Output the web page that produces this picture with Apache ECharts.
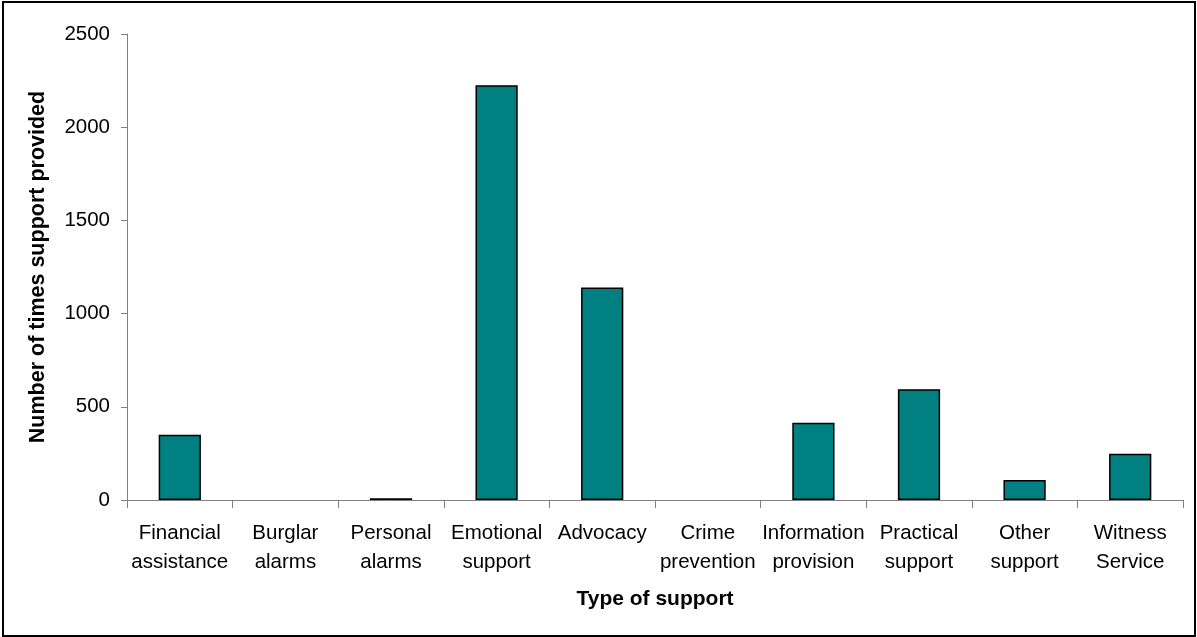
<!DOCTYPE html>
<html>
<head>
<meta charset="utf-8">
<script src="https://cdn.jsdelivr.net/npm/echarts@6/dist/echarts.min.js"></script>
<style>
html,body{margin:0;padding:0;background:#fff;}
#frame{position:absolute;left:2px;top:1px;width:1190px;height:632px;border:2px solid #000;box-sizing:content-box;}
#chart{position:absolute;left:0;top:0;width:1197px;height:637px;}
</style>
</head>
<body>
<div id="frame"></div>
<div id="chart"></div>
<script>
const categories = ["Financial assistance","Burglar alarms","Personal alarms","Emotional support","Advocacy","Crime prevention","Information provision","Practical support","Other support","Witness Service"];
const values = [350, 0, 10, 2225, 1140, 0, 415, 594, 107, 248];
const yTicks = [0, 500, 1000, 1500, 2000, 2500];

const FONT = 'Liberation Sans, Arial, sans-serif';
const chart = echarts.init(document.getElementById('chart'), null, {renderer:'canvas'});
chart.setOption({
  animation: false,
  backgroundColor: 'transparent',
  grid: {left:127, right:14, top:34, bottom:137, containLabel:false},
  xAxis: {
    type: 'category',
    data: categories,
    name: 'Type of support',
    nameLocation: 'middle',
    nameGap: 89,
    nameTextStyle: {fontFamily:FONT, fontSize:21, fontWeight:'bold', color:'#000'},
    axisLine: {lineStyle:{color:'#808080', width:1}},
    axisTick: {show:true, length:8, lineStyle:{color:'#808080'}},
    axisLabel: {
      interval: 0,
      margin: 19,
      fontFamily: FONT,
      fontSize: 20.5,
      color: '#000',
      lineHeight: 29,
      formatter: v => v.replace(' ', '\n')
    }
  },
  yAxis: {
    type: 'value',
    min: yTicks[0],
    max: yTicks[yTicks.length-1],
    interval: 500,
    name: 'Number of times support provided',
    nameLocation: 'middle',
    nameGap: 78,
    nameTextStyle: {fontFamily:FONT, fontSize:21.5, fontWeight:'bold', color:'#000'},
    axisLine: {show:true, lineStyle:{color:'#808080', width:1}},
    axisTick: {show:true, length:6, lineStyle:{color:'#808080'}},
    splitLine: {show:false},
    axisLabel: {fontFamily:FONT, fontSize:20.5, color:'#000', margin:17, formatter: v => String(v)}
  },
  series: [{
    type: 'bar',
    data: values.map(v => v === 0 ? null : v),
    barWidth: '40%',
    itemStyle: {color:'#008080', borderColor:'#000', borderWidth:1.5}
  }]
});
</script>
</body>
</html>
